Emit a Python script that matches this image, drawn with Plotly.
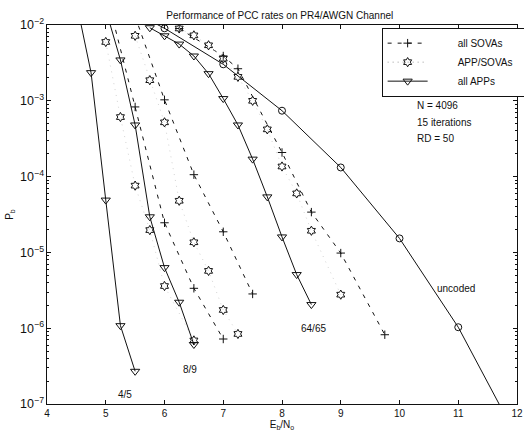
import plotly.graph_objects as go

# ---------------- data ----------------
r45_app_x = [4.5, 4.75, 5.0, 5.25, 5.5]
r45_app_y = [2.0e-2, 2.35e-3, 4.9e-5, 1.08e-6, 2.7e-7]
r45_mix_x = [5.0, 5.25, 5.5, 5.75, 6.0, 6.5]
r45_mix_y = [5.97e-3, 6.1e-4, 7.6e-5, 1.97e-5, 3.6e-6, 6.9e-7]
r45_sova_x = [5.0, 5.5, 6.0, 6.5, 7.0]
r45_sova_y = [2.8e-2, 8.3e-4, 2.46e-5, 3.36e-6, 7.2e-7]

r89_app_x = [5.0, 5.25, 5.5, 5.75, 6.0, 6.25, 6.5]
r89_app_y = [1.6e-2, 3.46e-3, 4.8e-4, 2.95e-5, 6.3e-6, 2.2e-6, 6.1e-7]
r89_mix_x = [5.5, 5.75, 6.0, 6.25, 6.5, 6.75, 7.0, 7.25]
r89_mix_y = [7.2e-3, 1.87e-3, 5.2e-4, 4.8e-5, 1.36e-5, 5.7e-6, 1.74e-6, 8.4e-7]
r89_sova_x = [5.5, 6.0, 6.5, 7.0, 7.5]
r89_sova_y = [1.3e-2, 1.03e-3, 1.06e-4, 1.87e-5, 2.83e-6]

r6465_app_x = [5.75, 6.0, 6.25, 6.5, 6.75, 7.0, 7.25, 7.5, 7.75, 8.0, 8.25, 8.5]
r6465_app_y = [9.2e-3, 7.2e-3, 5.6e-3, 3.9e-3, 2.28e-3, 1.07e-3, 4.8e-4, 1.7e-4,
               5.4e-5, 1.6e-5, 5.1e-6, 2.05e-6]
r6465_mix_x = [6.25, 6.5, 6.75, 7.0, 7.25, 7.5, 7.75, 8.0, 8.25, 8.5, 9.0]
r6465_mix_y = [9.0e-3, 7.3e-3, 5.4e-3, 3.6e-3, 2.07e-3, 1.0e-3, 4.2e-4, 1.36e-4,
               6.0e-5, 1.93e-5, 2.77e-6]
r6465_sova_x = [6.25, 7.0, 7.25, 8.0, 8.5, 9.0, 9.75]
r6465_sova_y = [9.0e-3, 3.9e-3, 2.65e-3, 2.08e-4, 3.4e-5, 9.8e-6, 8.2e-7]

uncoded_x = [5, 6, 7, 8, 9, 10, 11, 12]
uncoded_y = [2.3e-2, 9.05e-3, 3.03e-3, 7.4e-4, 1.32e-4, 1.53e-5, 1.03e-6, 3.6e-8]

legend_names = ["all SOVAs", "APP/SOVAs", "all APPs"]
x_ticks = [4, 5, 6, 7, 8, 9, 10, 11, 12]

FONT = "Liberation Sans, Arial, Helvetica, sans-serif"
BLACK = "#111111"

sova_style = dict(mode="lines+markers",
                  line=dict(color=BLACK, width=1, dash="4px,6px"),
                  marker=dict(symbol="cross-thin-open", size=6,
                              line=dict(color=BLACK, width=1)))
mix_style = dict(mode="lines+markers",
                 line=dict(color="#d4d4d4", width=1, dash="1px,5px"),
                 marker=dict(symbol="hexagram-open", size=7, color=BLACK,
                             line=dict(color=BLACK, width=1)))
app_style = dict(mode="lines+markers",
                 line=dict(color=BLACK, width=1),
                 marker=dict(symbol="triangle-down-open", size=8, color=BLACK,
                             line=dict(color=BLACK, width=1)))
unc_style = dict(mode="lines+markers",
                 line=dict(color=BLACK, width=1),
                 marker=dict(symbol="circle-open", size=7, color=BLACK,
                             line=dict(color=BLACK, width=1)))

fig = go.Figure()

for xs, ys in [(r45_sova_x, r45_sova_y), (r89_sova_x, r89_sova_y),
               (r6465_sova_x, r6465_sova_y)]:
    fig.add_trace(go.Scatter(x=xs, y=ys, showlegend=False, **sova_style))
for xs, ys in [(r45_mix_x, r45_mix_y), (r89_mix_x, r89_mix_y),
               (r6465_mix_x, r6465_mix_y)]:
    fig.add_trace(go.Scatter(x=xs, y=ys, showlegend=False, **mix_style))
for xs, ys in [(r45_app_x, r45_app_y), (r89_app_x, r89_app_y),
               (r6465_app_x, r6465_app_y)]:
    fig.add_trace(go.Scatter(x=xs, y=ys, showlegend=False, **app_style))
fig.add_trace(go.Scatter(x=uncoded_x, y=uncoded_y, showlegend=False, **unc_style))

# legend-only traces (legend samples use the darker dotted line so it shows)
pad = "\u00a0" * 9
tail = "\u00a0" * 2
leg_mix = dict(mix_style)
leg_mix["line"] = dict(color="#9a9a9a", width=1, dash="1px,4px")
for name, st in zip(legend_names, [sova_style, leg_mix, app_style]):
    fig.add_trace(go.Scatter(x=[None], y=[None], name=pad + name + tail,
                             showlegend=True, **st))

# text annotations
notes = [
    ("4/5", 5.33, -6.88, "center"),
    ("8/9", 6.44, -6.55, "center"),
    ("64/65", 8.53, -6.0, "center"),
    ("uncoded", 10.97, -5.47, "center"),
    ("N = 4096", 10.27, -3.06, "left"),
    ("15 iterations", 10.27, -3.28, "left"),
    ("RD = 50", 10.27, -3.50, "left"),
]
for txt, ax_, ay_, anc in notes:
    fig.add_annotation(x=ax_, y=ay_, text=txt, showarrow=False, xanchor=anc,
                       yanchor="middle", font=dict(family=FONT, size=10, color=BLACK))

axis_common = dict(showline=True, linecolor=BLACK, linewidth=1, mirror="ticks",
                   ticks="inside", ticklen=4, tickcolor=BLACK, showgrid=False,
                   zeroline=False, tickfont=dict(family=FONT, size=10, color=BLACK))

fig.update_layout(
    width=524, height=432,
    margin=dict(l=47, r=7, t=25, b=28, autoexpand=False),
    paper_bgcolor="white", plot_bgcolor="white",
    font=dict(family=FONT, size=10, color=BLACK),
    title=dict(text="Performance of PCC rates on PR4/AWGN Channel",
               x=0.534, xanchor="center", y=1 - 15 / 432, yanchor="middle",
               font=dict(family=FONT, size=10, color=BLACK)),
    xaxis=dict(range=[4, 12], tickvals=x_ticks, ticktext=[str(t) for t in x_ticks],
               title=dict(text="E<sub>b</sub>/N<sub>o</sub>", standoff=2,
                          font=dict(family=FONT, size=10, color=BLACK)),
               **axis_common),
    yaxis=dict(type="log", range=[-7, -2], dtick=1, exponentformat="power",
               showexponent="all",
               minor=dict(ticks="inside", ticklen=2, dtick="D1", tickcolor=BLACK),
               title=dict(text="P<sub>b</sub>", standoff=4,
                          font=dict(family=FONT, size=10, color=BLACK)),
               **axis_common),
    legend=dict(x=0.712, y=0.993, xanchor="left", yanchor="top",
                bordercolor=BLACK, borderwidth=1, bgcolor="white",
                font=dict(family=FONT, size=10, color=BLACK),
                itemwidth=40, tracegroupgap=0),
    showlegend=True,
)

fig.write_html("out.html")
